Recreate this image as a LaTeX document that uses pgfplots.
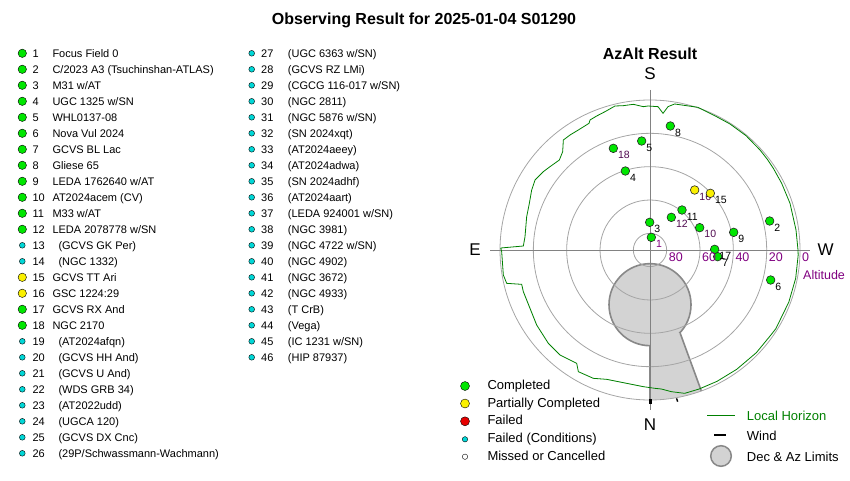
\documentclass[border=0pt]{standalone}
\usepackage{fontspec}
\setmainfont{Liberation Sans}
\usepackage{pgfplots}
\pgfplotsset{compat=1.18}

\definecolor{cgreen}{RGB}{0,230,0}
\definecolor{cyellow}{RGB}{250,240,0}
\definecolor{cred}{RGB}{230,0,0}
\definecolor{ccyan}{RGB}{0,215,215}
\definecolor{altpurple}{RGB}{128,0,128}
\definecolor{dpurple}{RGB}{80,10,80}
\definecolor{hgreen}{RGB}{0,128,0}
\definecolor{limfill}{RGB}{211,211,211}
\definecolor{limedge}{RGB}{136,136,136}
\definecolor{gridgray}{RGB}{165,165,165}
\definecolor{axgray}{RGB}{130,130,130}

\pgfplotsset{
  canvas/.style={at={(0,0)}, anchor=south west, width=850pt, height=480pt,
    scale only axis, hide axis, clip=false},
  bigmk/.style={only marks, mark=*, mark size=#1, mark options={draw=black!85, line width=0.6pt}},
  pts/.style={only marks, mark=*, mark size=4.3pt,
    mark options={fill=#1, draw=black!85, line width=0.6pt},
    nodes near coords, point meta=explicit symbolic,
    every node near coord/.append style={anchor=west, inner sep=0pt, xshift=4.5pt, yshift=-6.7pt,
      font=\fontsize{10.5}{12}\selectfont}},
}
\tikzset{lst/.style={anchor=base west, inner sep=0pt, font=\fontsize{11}{13}\selectfont}}

\begin{document}
\begin{tikzpicture}
% canvas in pixels for the target list and the legend symbols
\begin{axis}[canvas, xmin=0, xmax=850, ymin=0, ymax=480, y dir=reverse]
\addplot[bigmk=4.2pt, mark options={fill=cgreen}] coordinates {
 (22.3,53.3) (22.3,69.3) (22.3,85.3) (22.3,101.3) (22.3,117.3) (22.3,133.3)
 (22.3,149.3) (22.3,165.3) (22.3,181.3) (22.3,197.3) (22.3,213.3) (22.3,229.3)
 (22.3,309.3) (22.3,325.3)};
\addplot[bigmk=4.2pt, mark options={fill=cyellow}] coordinates {(22.3,277.3) (22.3,293.3)};
\addplot[bigmk=2.9pt, mark options={fill=ccyan}] coordinates {
 (22.3,245.3) (22.3,261.3) (22.3,341.3) (22.3,357.3) (22.3,373.3) (22.3,389.3)
 (22.3,405.3) (22.3,421.3) (22.3,437.3) (22.3,453.3)};
\addplot[bigmk=2.9pt, mark options={fill=ccyan}] coordinates {
 (251.7,53.3) (251.7,69.3) (251.7,85.3) (251.7,101.3) (251.7,117.3) (251.7,133.3)
 (251.7,149.3) (251.7,165.3) (251.7,181.3) (251.7,197.3) (251.7,213.3) (251.7,229.3)
 (251.7,245.3) (251.7,261.3) (251.7,277.3) (251.7,293.3) (251.7,309.3) (251.7,325.3)
 (251.7,341.3) (251.7,357.3)};
% status legend
\addplot[bigmk=4.5pt, mark options={fill=cgreen}] coordinates {(465,386)};
\addplot[bigmk=4.5pt, mark options={fill=cyellow}] coordinates {(465,403.5)};
\addplot[bigmk=4.5pt, mark options={fill=cred}] coordinates {(465,421.3)};
\addplot[bigmk=2.7pt, mark options={fill=ccyan}] coordinates {(465,439.3)};
\addplot[bigmk=2.7pt, mark options={fill=white}] coordinates {(465,456.7)};
% chart legend
\addplot[hgreen, line width=0.8pt] coordinates {(707,415) (735,415)};
\addplot[black, line width=2.6pt] coordinates {(714,435) (726,435)};
\addplot[only marks, mark=*, mark size=10.3pt, mark options={fill=limfill, draw=limedge, line width=1.5pt}] coordinates {(721,456)};
\end{axis}

% sky chart: radius = 90 - altitude
\begin{axis}[canvas, xmin=-390, xmax=120, ymin=-138, ymax=150]
% dec & az limits
\draw[fill=limfill, draw=limedge, line width=1.6pt] (axis cs:0,-32.8) circle[radius=24.6];
\addplot[fill=limfill, draw=none] coordinates {
 (0,-50) (0,-90) (7.8,-89.66) (15.6,-88.64) (23.3,-86.93) (30.8,-84.57) (18.1,-49.9)} -- cycle;
\addplot[limedge, line width=1.6pt] coordinates {(0,-57.4) (0,-90)};
\addplot[limedge, line width=1.6pt] coordinates {(18.1,-49.9) (30.8,-84.6)};
% altitude circles and axes
\draw[gridgray, line width=0.8pt] (axis cs:0,0) circle[radius=10];
\draw[gridgray, line width=0.8pt] (axis cs:0,0) circle[radius=30];
\draw[gridgray, line width=0.8pt] (axis cs:0,0) circle[radius=50];
\draw[gridgray, line width=0.8pt] (axis cs:0,0) circle[radius=70];
\draw[gridgray, line width=0.8pt] (axis cs:0,0) circle[radius=90];
\addplot[axgray, line width=0.8pt] coordinates {(-96,0) (96,0)};
\addplot[axgray, line width=0.8pt] coordinates {(0,96) (0,-96)};
% local horizon
\addplot[hgreen, line width=0.8pt] coordinates {
 (-89.6,1.2) (-76.0,2.4) (-75.0,8.0) (-74.0,20.0) (-72.4,28.0) (-71.0,36.0) (-69.0,42.0)
 (-64.0,47.0) (-60.0,50.0) (-54.4,54.0) (-52.4,59.0) (-52.0,66.0) (-48.0,69.0) (-43.0,72.0)
 (-36.6,76.0) (-36.0,78.0) (-32.0,80.4) (-27.0,83.0) (-21.0,86.4) (-16.0,86.6) (-10.0,87.4)
 (-4.0,86.0) (-1.2,86.4) (4.8,86.0) (7.8,82.0) (10.8,86.0) (14.8,87.6) (28.8,85.6)
 (38.8,80.6) (48.0,75.6) (57.6,68.6) (66.0,60.0) (70.4,54.4) (74.0,49.0) (79.0,40.0)
 (84.0,28.0) (87.6,12.0) (88.8,0.0) (88.9,-3.1) (87.4,-17.0) (83.3,-31.2) (75.5,-47.2)
 (72.6,-50.9) (63.8,-61.6) (52.0,-71.6) (40.2,-78.8) (29.5,-83.4) (20.8,-86.0) (12.8,-85.0)
 (6.8,-83.4) (3.0,-83.0) (-4.0,-82.0) (-16.0,-79.6) (-26.0,-77.6) (-34.0,-77.0) (-43.0,-73.0)
 (-44.0,-68.0) (-54.0,-63.0) (-61.0,-56.0) (-68.0,-45.0) (-72.0,-35.0) (-76.0,-25.0)
 (-77.0,-20.6) (-86.0,-20.0) (-88.0,-15.0) (-89.0,-1.0) (-89.6,1.2)};
% wind
\addplot[black, line width=2.6pt] coordinates {(0.4,-89.4) (0.4,-92.6)};
\addplot[black, line width=1.4pt] coordinates {(15.9,-89.0) (16.6,-91.0)};
% targets
\addplot[pts=cgreen] table[meta=n] {
x y n
71.8 17.4 2
-0.2 16.6 3
-14.8 47.4 4
-5.0 65.4 5
72.4 -18.0 6
40.6 -4.0 7
12.2 74.4 8
50.2 10.6 9
19.2 24.0 11
38.8 0.4 17
};
\addplot[pts=cgreen, every node near coord/.append style={text=dpurple}] table[meta=n] {
x y n
29.8 13.4 10
12.8 19.6 12
-22.0 61.0 18
};
\addplot[pts=cgreen, every node near coord/.append style={text=altpurple}] table[meta=n] {
x y n
0.8 7.6 1
};
\addplot[pts=cyellow, every node near coord/.append style={text=dpurple}] table[meta=n] {
x y n
26.8 36.0 16
};
\addplot[pts=cyellow] table[meta=n] {
x y n
36.2 34.0 15
};
\end{axis}

% titles and text (1pt = 1px of the reference, y measured from the bottom)
\node[anchor=base, inner sep=0pt, font=\fontsize{16}{19}\selectfont\bfseries] at (424pt,455pt) {Observing Result for 2025-01-04 S01290};
\node[anchor=base, inner sep=0pt, font=\fontsize{16}{19}\selectfont\bfseries] at (650pt,420.5pt) {AzAlt Result};
\begin{scope}[every node/.style={anchor=base, inner sep=0pt, font=\fontsize{17}{20}\selectfont}]
\node at (650pt,400pt) {S};
\node at (475pt,225pt) {E};
\node at (825.6pt,225pt) {W};
\node at (650pt,50pt) {N};
\end{scope}
\begin{scope}[every node/.style={anchor=base west, inner sep=0pt, text=altpurple, font=\fontsize{12.5}{15}\selectfont}]
\node at (668.7pt,218.3pt) {80};
\node at (702pt,218.3pt) {60};
\node at (735.3pt,218.3pt) {40};
\node at (768.7pt,218.3pt) {20};
\node at (802pt,218.3pt) {0};
\node at (803pt,200.5pt) {Altitude};
\end{scope}
\begin{scope}[every node/.style={anchor=base west, inner sep=0pt, font=\fontsize{13}{15}\selectfont}]
\node at (487.3pt,90.5pt) {Completed};
\node at (487.3pt,73pt) {Partially Completed};
\node at (487.3pt,55.3pt) {Failed};
\node at (487.3pt,37.7pt) {Failed (Conditions)};
\node at (487.3pt,20pt) {Missed or Cancelled};
\node[text=hgreen] at (746.7pt,60pt) {Local Horizon};
\node at (746.7pt,40pt) {Wind};
\node at (746.7pt,19pt) {Dec \& Az Limits};
\end{scope}
% target list
\foreach \i in {1,...,26} \node[lst] at (32.3pt,{422.7pt-16pt*(\i-1)}) {\i};
\foreach \i in {27,...,46} \node[lst] at (261pt,{422.7pt-16pt*(\i-27)}) {\i};
\foreach \nm [count=\i] in {Focus Field 0, C/2023 A3 (Tsuchinshan-ATLAS), M31 w/AT, UGC 1325 w/SN,
  WHL0137-08, Nova Vul 2024, GCVS BL Lac, Gliese 65, LEDA 1762640 w/AT, AT2024acem (CV),
  M33 w/AT, LEDA 2078778 w/SN}
  \node[lst] at (52.3pt,{422.7pt-16pt*(\i-1)}) {\nm};
\foreach \nm [count=\i from 13] in {(GCVS GK Per), (NGC 1332)}
  \node[lst] at (58.3pt,{422.7pt-16pt*(\i-1)}) {\nm};
\foreach \nm [count=\i from 15] in {GCVS TT Ari, GSC 1224:29, GCVS RX And, NGC 2170}
  \node[lst] at (52.3pt,{422.7pt-16pt*(\i-1)}) {\nm};
\foreach \nm [count=\i from 19] in {(AT2024afqn), (GCVS HH And), (GCVS U And), (WDS GRB 34),
  (AT2022udd), (UGCA 120), (GCVS DX Cnc), (29P/Schwassmann-Wachmann)}
  \node[lst] at (58.3pt,{422.7pt-16pt*(\i-1)}) {\nm};
\foreach \nm [count=\i from 27] in {(UGC 6363 w/SN), (GCVS RZ LMi), (CGCG 116-017 w/SN), (NGC 2811),
  (NGC 5876 w/SN), (SN 2024xqt), (AT2024aeey), (AT2024adwa), (SN 2024adhf), (AT2024aart),
  (LEDA 924001 w/SN), (NGC 3981), (NGC 4722 w/SN), (NGC 4902), (NGC 3672), (NGC 4933),
  (T CrB), (Vega), (IC 1231 w/SN), (HIP 87937)}
  \node[lst] at (287.7pt,{422.7pt-16pt*(\i-27)}) {\nm};
\pgfresetboundingbox
\path (0,0) rectangle (850pt,480pt);
\end{tikzpicture}
\end{document}
